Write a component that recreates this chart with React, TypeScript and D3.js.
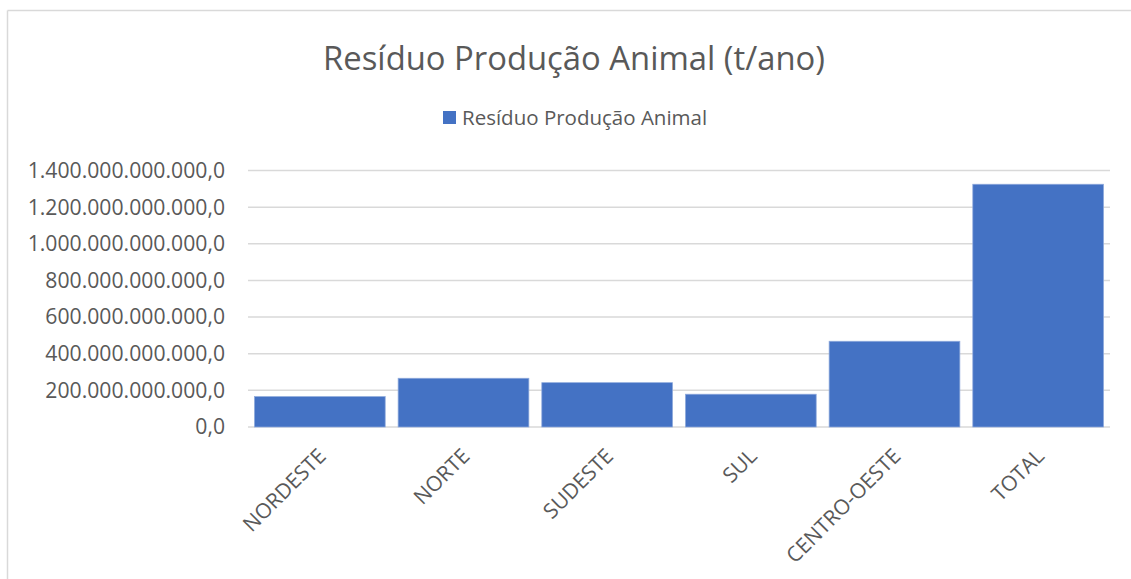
import React from "react";
import * as d3 from "d3";

const regions = ["NORDESTE", "NORTE", "SUDESTE", "SUL", "CENTRO-OESTE", "TOTAL"];
const residuo = [166e9, 266e9, 242e9, 179e9, 468e9, 1325e9];
const yTicks = [0, 200e9, 400e9, 600e9, 800e9, 1000e9, 1200e9, 1400e9];

const W = 1131;
const H = 579;
const font = "'Open Sans', 'Noto Sans', sans-serif";
const grey = "#595959";

// 1.400.000.000.000,0 style
const fmt = (v: number) => {
  const s = Math.round(v).toString().replace(/\B(?=(\d{3})+(?!\d))/g, ".");
  return s + ",0";
};

export default function App() {
  const x = d3
    .scaleBand()
    .domain(regions)
    .range([248, 1110])
    .paddingInner(0.09)
    .paddingOuter(0.045);

  const y = d3.scaleLinear().domain([0, 1400e9]).range([427, 170.5]);

  return (
    <svg
      width={W}
      height={H}
      style={{ position: "absolute", left: 0, top: 0, background: "#fff" }}
    >
      {/* chart border (top + left only visible) */}
      <line x1={7.5} x2={W} y1={10.5} y2={10.5} stroke="#d9d9d9" strokeWidth={1.5} />
      <line x1={7.5} x2={7.5} y1={10.5} y2={H} stroke="#d9d9d9" strokeWidth={1.5} />

      <text
        x={574}
        y={70}
        textAnchor="middle"
        fontFamily={font}
        fontSize={32.8}
        fill={grey}
      >
        Resíduo Produção Animal (t/ano)
      </text>

      {/* legend */}
      <rect x={443} y={111} width={13} height={13} fill="#4472c4" />
      <text x={462} y={125} fontFamily={font} fontSize={20.5} fill={grey}>
        Resíduo Produção Animal
      </text>

      {/* grid + y labels */}
      {yTicks.map(t => (
        <g key={t}>
          <line
            x1={248}
            x2={1110}
            y1={y(t)}
            y2={y(t)}
            stroke="#d9d9d9"
            strokeWidth={1.5}
          />
          <text
            x={225}
            y={y(t)}
            dy="0.35em"
            textAnchor="end"
            fontFamily={font}
            fontSize={21.2}
            fill={grey}
          >
            {fmt(t)}
          </text>
        </g>
      ))}

      {/* bars */}
      {regions.map((r, i) => (
        <rect
          key={r}
          x={x(r)}
          y={y(residuo[i])}
          width={x.bandwidth()}
          height={y(0) - y(residuo[i])}
          fill="#4472c4"
          stroke="#8faadc"
          strokeWidth={0.75}
        />
      ))}

      {/* x labels */}
      {regions.map(r => {
        const cx = (x(r) as number) + x.bandwidth() / 2 - 3;
        return (
          <text
            key={r}
            transform={`translate(${cx},${447}) rotate(-45)`}
            textAnchor="end"
            dy="0.7em"
            fontFamily={font}
            fontSize={21}
            fill={grey}
          >
            {r}
          </text>
        );
      })}
    </svg>
  );
}
